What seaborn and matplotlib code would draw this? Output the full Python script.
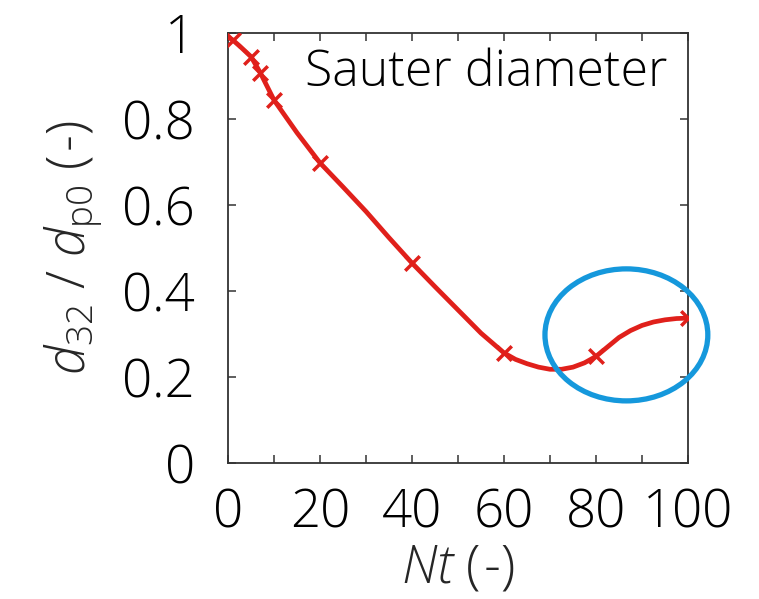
import matplotlib
matplotlib.use("Agg")
import matplotlib.pyplot as plt
import seaborn as sns
import pandas as pd
from matplotlib.patches import Ellipse
from matplotlib.ticker import MultipleLocator

# ---- data ----
curve_nt = [0, 1, 2.5, 5, 7, 10, 15, 20, 25, 30, 35, 40, 45, 50, 55, 60,
            62.5, 65, 67.5, 70, 72.5, 75, 77.5, 80, 82.5, 85, 87.5, 90, 92.5,
            95, 97.5, 100]
curve_d = [0.99, 0.984, 0.97, 0.945, 0.908, 0.844, 0.768, 0.698, 0.642, 0.585,
           0.524, 0.465, 0.41, 0.356, 0.302, 0.256, 0.241, 0.231, 0.223, 0.218,
           0.218, 0.223, 0.233, 0.248, 0.270, 0.292, 0.308, 0.320, 0.328,
           0.333, 0.336, 0.337]
marker_nt = [1, 5, 7, 10, 20, 40, 60, 80, 100]
marker_d = [0.984, 0.945, 0.908, 0.844, 0.698, 0.465, 0.256, 0.248, 0.337]
x_ticks = [0, 20, 40, 60, 80, 100]
y_ticks = [0, 0.2, 0.4, 0.6, 0.8, 1]
y_tick_labels = ["0", "0.2", "0.4", "0.6", "0.8", "1"]

sns.set_theme(style="ticks")
plt.rcParams["font.family"] = ["Open Sans", "DejaVu Sans"]
plt.rcParams["font.weight"] = "light"
plt.rcParams["mathtext.fontset"] = "custom"
plt.rcParams["mathtext.rm"] = "Open Sans:light"
plt.rcParams["mathtext.it"] = "Open Sans:italic:light"

FS = 38

fig = plt.figure(figsize=(7.59, 5.99), dpi=100)
ax = fig.add_axes([0.3004, 0.2270, 0.9065 - 0.3004, 0.9449 - 0.2270])

red = "#e0201b"
curve_df = pd.DataFrame({"Nt": curve_nt, "d": curve_d})
marker_df = pd.DataFrame({"Nt": marker_nt, "d": marker_d})
sns.lineplot(data=curve_df, x="Nt", y="d", ax=ax, color=red, linewidth=3.4,
             zorder=3)
sns.scatterplot(data=marker_df, x="Nt", y="d", ax=ax, color=red, marker="x",
                s=110, linewidth=2.5, zorder=4)

ax.add_patch(Ellipse((86.6, 0.298), 35.4, 0.307, fill=False,
                     edgecolor="#1598dc", linewidth=3.8, zorder=5, clip_on=False))

ax.set_xlim(0, 100)
ax.set_ylim(0, 1)
ax.set_xticks(x_ticks)
ax.xaxis.set_minor_locator(MultipleLocator(10))
ax.set_yticks(y_ticks)
ax.set_yticklabels(y_tick_labels)

for s in ax.spines.values():
    s.set_color("#333333")
    s.set_linewidth(1.3)
    s.set_visible(True)
ax.tick_params(axis="both", which="both", direction="in", top=True, right=True,
               color="#333333", width=1.1)
ax.tick_params(axis="both", which="major", length=6, labelsize=FS)
ax.tick_params(axis="x", which="minor", length=6)
ax.tick_params(axis="x", which="major", pad=17)
ax.tick_params(axis="y", which="major", pad=24)
for lab in ax.get_xticklabels() + ax.get_yticklabels():
    lab.set_color("black")
    lab.set_fontweight("light")

ax.set_xlabel(r"$\mathit{Nt}$ (-)", fontsize=FS, labelpad=1, fontweight="light")
ax.set_ylabel(r"$\mathit{d}_{32}$ / $\mathit{d}_{\mathrm{p0}}$ (-)", fontsize=FS,
              labelpad=12, fontweight="light")

ax.text(0.955, 0.965, "Sauter diameter", transform=ax.transAxes, ha="right",
        va="top", fontsize=36, color="black", fontweight="light")

fig.savefig("out.png", dpi=100)
